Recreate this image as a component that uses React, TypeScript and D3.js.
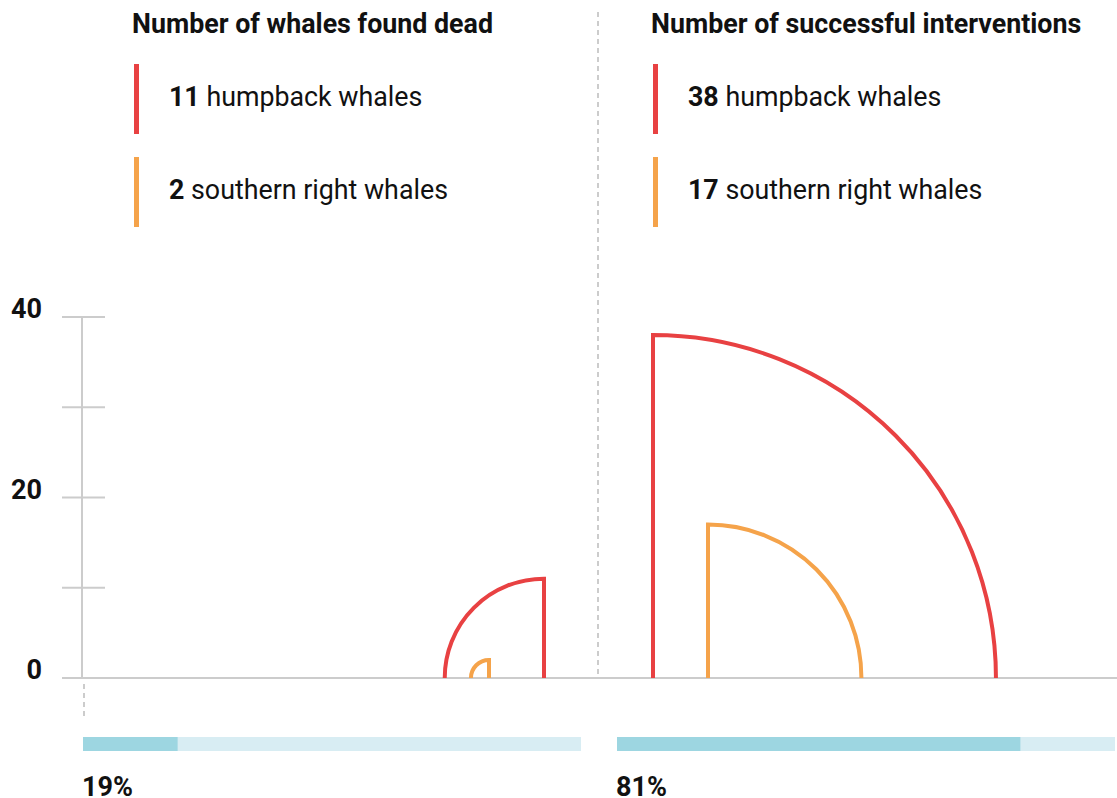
import { useEffect, useRef } from "react";
import * as d3 from "d3";

const W = 1117;
const H = 798;

const panelTitles = ["Number of whales found dead", "Number of successful interventions"];
const species = ["humpback whales", "southern right whales"];
const speciesColors = ["#e84142", "#f5a34a"];
const deadCounts = [11, 2];
const interventionCounts = [38, 17];
const shares = [19, 81];
const shareLabels = ["19%", "81%"];
const yTicks = [0, 10, 20, 30, 40];
const yLabels = ["0", "", "20", "", "40"];

const FONT = "Roboto, 'Noto Sans', sans-serif";

export default function App() {
  const svgRef = useRef<SVGSVGElement>(null);

  useEffect(() => {
    if (!svgRef.current) return;
    const svg = d3.select(svgRef.current);
    svg.selectAll("*").remove();

    const baseY = 678;
    const y = d3.scaleLinear().domain([0, 40]).range([baseY, 317]);
    const r = (v: number) => baseY - y(v);

    // y axis
    const axis = svg.append("g");
    axis.append("line")
      .attr("x1", 82).attr("x2", 82)
      .attr("y1", y(40)).attr("y2", baseY)
      .attr("stroke", "#cccccc").attr("stroke-width", 2);
    axis.append("line")
      .attr("x1", 84).attr("x2", 84)
      .attr("y1", baseY + 6).attr("y2", 720)
      .attr("stroke", "#cccccc").attr("stroke-width", 2)
      .attr("stroke-dasharray", "5,4");
    axis.selectAll(".tick")
      .data(yTicks)
      .join("line")
      .attr("x1", 62).attr("x2", 105)
      .attr("y1", (d) => y(d)).attr("y2", (d) => y(d))
      .attr("stroke", "#cccccc").attr("stroke-width", 2);
    axis.selectAll(".lbl")
      .data(yTicks)
      .join("text")
      .attr("x", 42)
      .attr("y", (d) => y(d) + 1)
      .attr("text-anchor", "end")
      .attr("font-family", FONT)
      .attr("font-weight", 700)
      .attr("font-size", 27)
      .attr("fill", "#111")
      .text((_d, i) => yLabels[i]);

    // baseline
    svg.append("line")
      .attr("x1", 62).attr("x2", W)
      .attr("y1", baseY).attr("y2", baseY)
      .attr("stroke", "#cccccc").attr("stroke-width", 2);

    // divider
    svg.append("line")
      .attr("x1", 598).attr("x2", 598)
      .attr("y1", 12).attr("y2", baseY)
      .attr("stroke", "#cccccc").attr("stroke-width", 2)
      .attr("stroke-dasharray", "5,4");

    const panels = [
      { title: panelTitles[0], x: 132, counts: deadCounts, centers: [544, 489], dir: -1, barX: 83, share: shares[0], label: shareLabels[0] },
      { title: panelTitles[1], x: 651, counts: interventionCounts, centers: [653, 708], dir: 1, barX: 617, share: shares[1], label: shareLabels[1] },
    ];

    const barW = 498;
    const pct = d3.scaleLinear().domain([0, 100]).range([0, barW]);

    panels.forEach((p) => {
      const g = svg.append("g");
      g.append("text")
        .attr("x", p.x).attr("y", 33)
        .attr("font-family", FONT).attr("font-weight", 700).attr("font-size", 26.8)
        .attr("fill", "#111")
        .text(p.title);

      // legend
      species.forEach((s, i) => {
        const top = 64 + i * 93;
        g.append("rect")
          .attr("x", p.x + 2).attr("y", top)
          .attr("width", 5).attr("height", 70)
          .attr("fill", speciesColors[i]);
        const t = g.append("text")
          .attr("x", p.x + 37).attr("y", top + 42)
          .attr("font-family", FONT).attr("font-size", 26.8).attr("fill", "#111");
        t.append("tspan").attr("font-weight", 700).text(String(p.counts[i]));
        t.append("tspan").text(" " + s);
      });

      // quarter circles
      p.counts.forEach((v, i) => {
        const cx = p.centers[i];
        const rad = r(v);
        const path = d3.path();
        path.moveTo(cx, baseY);
        path.lineTo(cx, baseY - rad);
        if (p.dir < 0) {
          path.arc(cx, baseY, rad, -Math.PI / 2, -Math.PI, true);
        } else {
          path.arc(cx, baseY, rad, -Math.PI / 2, 0, false);
        }
        g.append("path")
          .attr("d", path.toString())
          .attr("fill", "none")
          .attr("stroke", speciesColors[i])
          .attr("stroke-width", 4);
      });

      // share bar
      g.append("rect")
        .attr("x", p.barX).attr("y", 737)
        .attr("width", barW).attr("height", 14)
        .attr("fill", "#d8edf3");
      g.append("rect")
        .attr("x", p.barX).attr("y", 737)
        .attr("width", pct(p.share)).attr("height", 14)
        .attr("fill", "#9dd6e1");
      g.append("text")
        .attr("x", p.barX - 1).attr("y", 796)
        .attr("font-family", FONT).attr("font-weight", 700).attr("font-size", 27)
        .attr("fill", "#111")
        .text(p.label);
    });
  }, []);

  return (
    <div style={{ position: "absolute", left: 0, top: 0, width: W, height: H, background: "#fff" }}>
      <svg ref={svgRef} width={W} height={H} style={{ display: "block" }} />
    </div>
  );
}
